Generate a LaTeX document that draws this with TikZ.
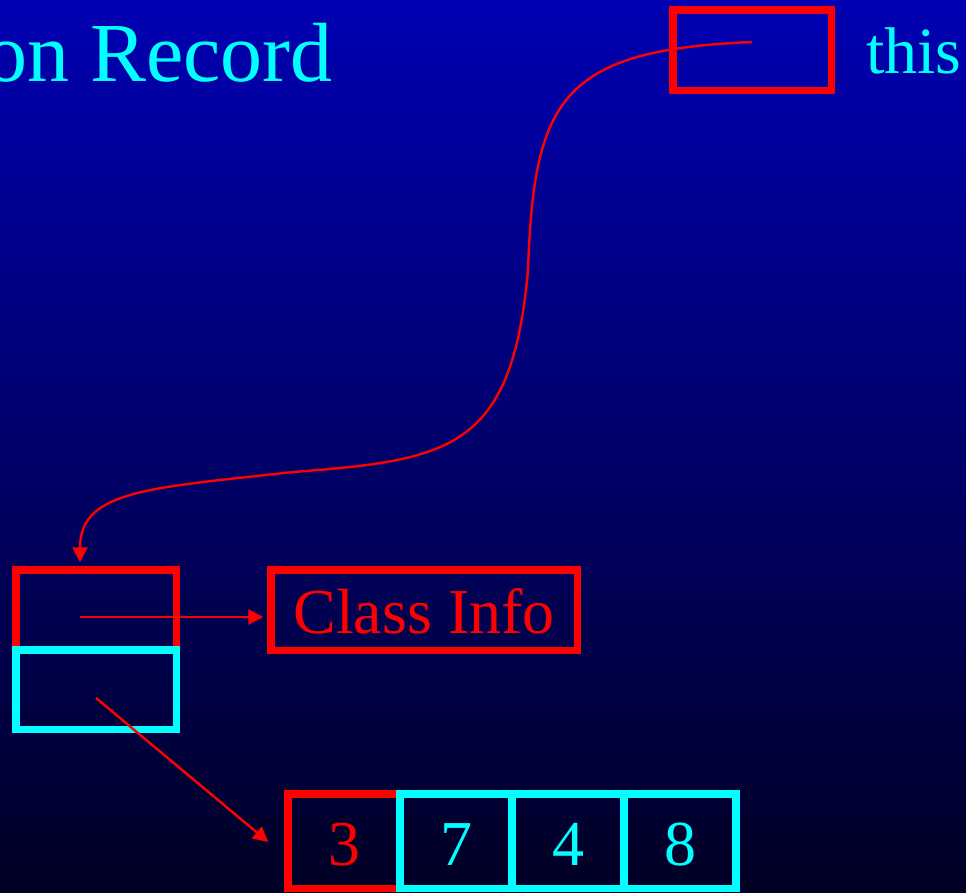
\documentclass[tikz,border=0pt]{standalone}
\usepackage{fontspec}
\setmainfont{Liberation Serif}
\usetikzlibrary{arrows.meta}
\definecolor{bgtop}{RGB}{0,0,178}
\definecolor{bgbot}{RGB}{0,0,36}
\definecolor{pred}{RGB}{255,0,0}
\definecolor{pcyan}{RGB}{0,255,255}
\begin{document}
\begin{tikzpicture}[x=1pt,y=-1pt,
  redbox/.style={draw=pred, line width=7.5pt, rectangle, inner sep=0pt},
  cyanbox/.style={draw=pcyan, line width=7.5pt, rectangle, inner sep=0pt},
  arr/.style={draw=pred, line width=2.4pt, -{Triangle[length=15pt,width=15pt]}},
  bigtxt/.style={font=\fontsize{64}{70}\selectfont},
  cell/.style={minimum width=112pt, minimum height=94.5pt, bigtxt, text height=48pt, text depth=0pt}]
\useasboundingbox (0,0) rectangle (966,892);
\clip (0,0) rectangle (966,892);
\shade[top color=bgtop, bottom color=bgbot] (0,0) rectangle (966,892);

% texts
\node[anchor=base west, text=pcyan, font=\fontsize{84}{90}\selectfont, inner sep=0pt] (title) at (-15,81) {on Record};
\node[anchor=base west, text=pcyan, font=\fontsize{66}{70}\selectfont, inner sep=0pt] (thislbl) at (866,73) {this};

% boxes
\node[redbox, minimum width=158.5pt, minimum height=80.5pt] (thisbox) at (752,50) {};
\node[redbox, minimum width=160.5pt, minimum height=80pt] (rec) at (96,609.75) {};
\node[cyanbox, minimum width=160.5pt, minimum height=79.5pt] (arrptr) at (96,689.5) {};
\node[redbox, minimum width=306.5pt, minimum height=80.5pt, text=pred, bigtxt, text height=46pt, text depth=0pt] (ci) at (424,610) {Class Info};

% array cells
\node[redbox, cell, text=pred] (c1) at (344,841) {3};
\node[cyanbox, cell, text=pcyan] (c2) at (456,841) {7};
\node[cyanbox, cell, text=pcyan] (c3) at (568,841) {4};
\node[cyanbox, cell, text=pcyan] (c4) at (680,841) {8};

% connectors
\coordinate (p0) at (752,42);
\draw[arr] (p0) .. controls (560,50) and (534,100) .. (528,270)
  .. controls (512,450) and (450,460) .. (293,472)
  .. controls (150,488) and (80,490) .. ([xshift=-16pt,yshift=3.75pt]rec.north);
\coordinate (p1) at (80,617);
\draw[arr] (p1) -- ([xshift=-3.75pt]p1 -| ci.west);
\coordinate (p2) at (96,698);
\draw[arr] (p2) -- ([xshift=-16pt,yshift=-1pt]c1.west);
\end{tikzpicture}
\end{document}
